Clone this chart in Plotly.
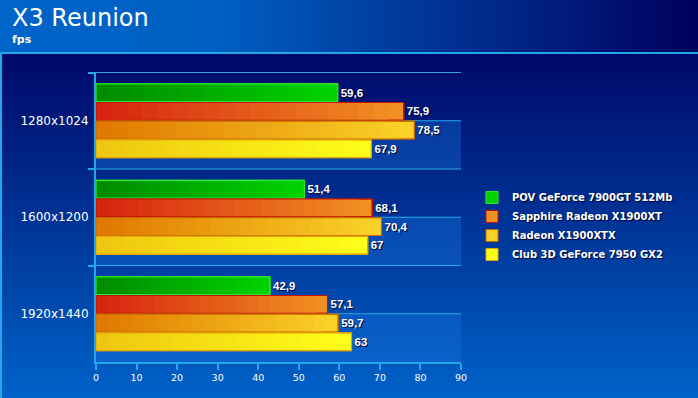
import base64
import struct
import zlib

import plotly.graph_objects as go

# ---------------- data ----------------
categories = ["1280x1024", "1600x1200", "1920x1440"]
series_names = [
    "POV GeForce 7900GT 512Mb",
    "Sapphire Radeon X1900XT",
    "Radeon X1900XTX",
    "Club 3D GeForce 7950 GX2",
]
pov_values = [59.6, 51.4, 42.9]
sapphire_values = [75.9, 68.1, 57.1]
radeon_values = [78.5, 70.4, 59.7]
club3d_values = [67.9, 67, 63]
x_ticks = [0, 10, 20, 30, 40, 50, 60, 70, 80, 90]

series_values = [pov_values, sapphire_values, radeon_values, club3d_values]

# ---------------- styles ----------------
W, H = 698, 398
L, R, T, B = 96, 237, 72, 36
CYAN = "#22a8ea"

grad_left = [(0, 138, 0), (214, 34, 16), (224, 118, 0), (238, 198, 16)]
grad_right = [(0, 212, 0), (242, 146, 34), (250, 212, 40), (255, 255, 26)]
border_cols = ["#2ee82e", "#c01408", "#c86a00", "#e8a400"]


def lerp(c1, c2, t):
    return tuple(int(round(a + (b - a) * t)) for a, b in zip(c1, c2))


def rgb(c):
    return "rgb(%d,%d,%d)" % c


# ---------------- background image ----------------
def make_png(w, h, rows):
    raw = b"".join(b"\x00" + bytes(r) for r in rows)

    def chunk(tag, data):
        c = struct.pack(">I", len(data)) + tag + data
        return c + struct.pack(">I", zlib.crc32(tag + data) & 0xFFFFFFFF)

    return (b"\x89PNG\r\n\x1a\n"
            + chunk(b"IHDR", struct.pack(">IIBBBBB", w, h, 8, 2, 0, 0, 0))
            + chunk(b"IDAT", zlib.compress(raw, 9))
            + chunk(b"IEND", b""))


def header_col(x):
    t = x / (W - 1)
    if t < 0.3:
        return lerp((0, 100, 200), (0, 96, 196), t / 0.3)
    return lerp((0, 96, 196), (0, 0, 94), (t - 0.3) / 0.7)


HEADER_H = 52
header_row = []
for x in range(W):
    header_row.extend(header_col(x))
cyan_rgb = (34, 168, 234)
rows = []
for y in range(H):
    if y < HEADER_H:
        rows.append(header_row)
    elif y < HEADER_H + 2:
        rows.append(list(cyan_rgb) * W)
    else:
        t = (y - HEADER_H - 2) / (H - HEADER_H - 3)
        c = lerp((0, 8, 104), (0, 98, 200), t)
        rows.append(list(cyan_rgb) * 2 + list(c) * (W - 2))
bg_uri = "data:image/png;base64," + base64.b64encode(make_png(W, H, rows)).decode()

PW, PH = W - L - R, H - T - B


def px(x):
    return (x - L) / PW


def py(y):
    return (H - B - y) / PH


# ---------------- figure ----------------
fig = go.Figure()
N = 20
for i, (name, vals) in enumerate(zip(series_names, series_values)):
    for k in range(N, 0, -1):
        t = (k - 0.5) / N
        fig.add_trace(go.Bar(
            y=categories, x=[v * k / N for v in vals], orientation="h",
            name=name, legendgroup=name, offsetgroup=str(i),
            showlegend=(k == N),
            marker=dict(color=rgb(lerp(grad_left[i], grad_right[i], t)),
                        line=dict(width=1 if k == N else 0, color=border_cols[i])),
            hoverinfo="skip",
        ))
    fig.add_trace(go.Bar(
        y=categories, x=vals, orientation="h", name=name, legendgroup=name,
        offsetgroup=str(i), showlegend=False,
        marker=dict(color="rgba(0,0,0,0)", line=dict(width=1.2, color=border_cols[i])),
        text=[("%g" % v).replace(".", ",") for v in vals],
        textposition="outside", cliponaxis=False,
        textfont=dict(family="Liberation Sans", size=11.5, color="white",
                      weight="bold", shadow="1px 1px 1px #000030"),
    ))

shapes = []
for i in range(len(categories)):
    shapes.append(dict(type="rect", xref="paper", yref="y", x0=0, x1=1, y0=i, y1=i + 0.5,
                       fillcolor="rgba(20,112,222,0.38)", line=dict(width=0), layer="below"))
    for yy in (i - 0.5, i):
        shapes.append(dict(type="line", xref="paper", yref="y", x0=0, x1=1, y0=yy, y1=yy,
                           line=dict(color=CYAN, width=1), layer="below"))

fig.update_layout(
    width=W, height=H,
    margin=dict(l=L, r=R, t=T, b=B, pad=0),
    paper_bgcolor="#00308a", plot_bgcolor="rgba(0,0,0,0)",
    barmode="group", bargap=0.224, bargroupgap=0.05,
    images=[dict(source=bg_uri, xref="paper", yref="paper", x=px(0), y=py(0),
                 sizex=W / PW, sizey=H / PH, sizing="stretch", xanchor="left",
                 yanchor="top", layer="below")],
    shapes=shapes,
    annotations=[
        dict(text="X3 Reunion", xref="paper", yref="paper", x=px(11), y=py(33),
             xanchor="left", yanchor="bottom", showarrow=False, borderpad=0,
             font=dict(family="DejaVu Sans", size=24, color="white")),
        dict(text="<b>fps</b>", xref="paper", yref="paper", x=px(11), y=py(32.5),
             xanchor="left", yanchor="top", showarrow=False, borderpad=0,
             font=dict(family="DejaVu Sans", size=11, color="white")),
    ],
    legend=dict(x=px(472), y=py(226), xanchor="left", yanchor="middle",
                bgcolor="rgba(0,0,0,0)", borderwidth=0, traceorder="normal",
                font=dict(family="DejaVu Sans", size=10, color="white", weight="bold",
                          shadow="1px 1px 1px #000030")),
    xaxis=dict(range=[0, 90], tickvals=x_ticks, showgrid=False, zeroline=False,
               showline=True, linecolor=CYAN, linewidth=2,
               ticks="outside", ticklen=6, tickwidth=2, tickcolor=CYAN,
               tickfont=dict(family="DejaVu Sans", size=9.5, color="white")),
    yaxis=dict(autorange="reversed", showgrid=False, zeroline=False,
               showline=True, linecolor=CYAN, linewidth=2,
               ticks="outside", tickson="boundaries", ticklen=6, tickwidth=2, tickcolor=CYAN,
               ticklabelstandoff=3,
               tickfont=dict(family="DejaVu Sans", size=12, color="white")),
)

fig.write_html("out.html", config={"displayModeBar": False},
               post_script="document.body.style.margin='0';")
